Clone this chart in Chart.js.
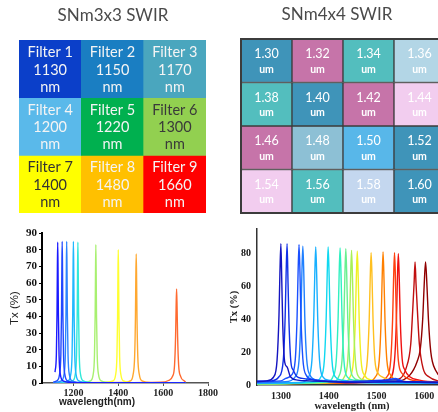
<!DOCTYPE html>
<html>
<head>
<meta charset="utf-8">
<script src="https://cdn.jsdelivr.net/npm/chart.js@4.4.0/dist/chart.umd.min.js"></script>
<style>
html, body { margin: 0; padding: 0; background: #fff; overflow: hidden; }
body { width: 438px; height: 412px; position: relative; }
canvas { position: absolute; }
.t { position: absolute; text-align: center; white-space: nowrap; }
</style>
</head>
<body>
<canvas id="grid-a" width="219" height="215" style="left:0;top:0"></canvas>
<canvas id="grid-b" width="240" height="215" style="left:219px;top:0"></canvas>
<canvas id="spec-a" width="219" height="197" style="left:0;top:215px"></canvas>
<canvas id="spec-b" width="235" height="197" style="left:219px;top:215px"></canvas>

<div class="t" style="left:0;width:226px;top:4px;font:17px Lato;color:#4a4a4a">SNm3x3 SWIR</div>
<div class="t" style="left:237px;width:200px;top:3px;font:17px Lato;color:#4a4a4a">SNm4x4 SWIR</div>
<div class="t" style="left:37px;width:120px;top:396px;font:bold 10px 'Liberation Sans';color:#222">wavelength(nm)</div>
<div class="t" style="left:292px;width:120px;top:400px;font:bold 10.5px 'Liberation Serif';color:#222">wavelength (nm)</div>

<script>
// 3x3 filter grid
const filterNames = ['Filter 1', 'Filter 2', 'Filter 3', 'Filter 4', 'Filter 5', 'Filter 6', 'Filter 7', 'Filter 8', 'Filter 9'];
const filterNm = [1130, 1150, 1170, 1200, 1220, 1300, 1400, 1480, 1660];
const filterColors = ['#0b3fc9', '#1a7ec2', '#4aa6be', '#5ab9ea', '#00b04f', '#92d050', '#ffff00', '#ffc000', '#ff0000'];
const filterTextColors = ['#f4f4f4', '#f4f4f4', '#f4f4f4', '#f4f4f4', '#f4f4f4', '#3a3a3a', '#333333', '#f4f4f4', '#f4f4f4'];

// 4x4 pixel grid (um)
const pixelUm = [1.30, 1.32, 1.34, 1.36, 1.38, 1.40, 1.42, 1.44, 1.46, 1.48, 1.50, 1.52, 1.54, 1.56, 1.58, 1.60];
const pixelColors = ['#3f94b9', '#c674a9', '#53bebe', '#b3d6e6',
                     '#53bebe', '#3f94b9', '#c674a9', '#f2cdef',
                     '#c674a9', '#8dc0d5', '#58b7e9', '#3f94b9',
                     '#f2cdef', '#53bebe', '#c4d7ef', '#3f94b9'];

// left spectra: [wavelength nm, Tx %]
const sA1130 = [[1118,6.5],[1124,17],[1127,42],[1128.5,68],[1130,84.5],[1131.5,68],[1133,42],[1136,17],[1142,5],[1154,1.3],[1200,0.2],[1700,0]];
const sA1150 = [[1110,0.5],[1126,1.3],[1138,5],[1144,17],[1147,42],[1148.5,68],[1150,85],[1151.5,68],[1153,42],[1156,17],[1162,5],[1174,1.3],[1220,0.2],[1700,0]];
const sA1170 = [[1110,0.3],[1146,1.3],[1158,5],[1164,17],[1167,42],[1168.5,68],[1170,85],[1171.5,68],[1173,42],[1176,17],[1182,5],[1194,1.3],[1240,0.2],[1700,0]];
const sA1200 = [[1110,0.2],[1176,1.3],[1188,5],[1194,17],[1197,42],[1198.5,68],[1200,85],[1201.5,68],[1203,42],[1206,17],[1212,5],[1224,1.3],[1270,0.2],[1700,0]];
const sA1220 = [[1110,0.1],[1196,1.3],[1208,5],[1214,17],[1217,42],[1218.5,68],[1220,84.5],[1221.5,68],[1223,42],[1226,17],[1232,5],[1244,1.3],[1290,0.2],[1700,0]];
const sA1300 = [[1110,0],[1250,0.3],[1276,1.3],[1288,5],[1294,17],[1297,41],[1298.5,66],[1300,83],[1301.5,66],[1303,41],[1306,17],[1312,5],[1324,1.3],[1370,0.2],[1700,0]];
const sA1400 = [[1110,0],[1340,0.3],[1376,1.2],[1388,4.8],[1394,16],[1397,40],[1398.5,64],[1400,80],[1401.5,64],[1403,40],[1406,16],[1412,4.8],[1424,1.2],[1470,0.2],[1700,0]];
const sA1480 = [[1110,0],[1420,0.3],[1454,1.3],[1466,5],[1473,16],[1476.5,39],[1478.2,62],[1480,77.5],[1481.8,62],[1483.5,39],[1487,16],[1494,5],[1506,1.3],[1550,0.2],[1700,0]];
const sA1660 = [[1110,0],[1590,0.5],[1624,1.5],[1642,4],[1651,11],[1655.5,28],[1657.8,45],[1660,56.5],[1662.2,45],[1664.5,28],[1669,11],[1678,4],[1696,1],[1700,0.5]];
const specAColors = ['#1a1aff', '#2048ff', '#2a84ff', '#20b8ff', '#30e8d8', '#a8f070', '#ffff30', '#ffa830', '#ff6a30'];
const xTicksA = [1200, 1400, 1600, 1800];
const yTicksA = [0, 10, 20, 30, 40, 50, 60, 70, 80, 90];

// right spectra
const sB1300 = [[1250,2],[1270,2.5],[1285,5],[1292,15],[1296,42],[1298,68],[1300,86],[1302,62],[1304,36],[1308,14],[1313,11],[1320,5],[1335,3],[1360,2.5],[1400,2],[1450,1.5],[1540,2],[1650,1.5]];
const sB1313 = [[1250,2.5],[1280,2.5],[1296,5],[1305,15],[1309,42],[1311,68],[1313,86],[1315,62],[1317,38],[1321,14],[1326,9],[1334,5],[1345,4],[1370,3],[1420,2],[1540,3],[1560,2],[1650,1.5]];
const sB1338 = [[1250,2],[1300,2.5],[1310,4],[1322,6],[1330,15],[1334,42],[1336,68],[1338,85.5],[1340,68],[1342,42],[1346,16],[1353,6],[1365,3.5],[1400,2.5],[1500,2],[1540,4],[1560,2],[1650,1.5]];
const sB1346 = [[1250,1.5],[1310,2],[1330,5],[1338,15],[1342,42],[1344,68],[1346,84.5],[1348,68],[1350,42],[1354,16],[1361,6],[1375,3],[1420,2],[1650,1.5]];
const sB1373 = [[1250,1],[1340,1.5],[1358,5],[1365,15],[1369,42],[1371,67],[1373,84],[1375,67],[1377,42],[1381,15],[1388,5],[1400,3],[1440,2],[1650,1]];
const sB1399 = [[1250,1],[1370,2],[1384,5],[1391,15],[1395,42],[1397,67],[1399,84],[1401,67],[1403,42],[1407,15],[1414,5],[1428,3],[1470,1.5],[1650,1]];
const sB1424 = [[1250,0.8],[1398,2],[1409,5],[1416,15],[1420,42],[1422,67],[1424,83.5],[1426,67],[1428,42],[1432,15],[1439,5],[1452,3],[1500,1.5],[1650,1]];
const sB1436 = [[1250,0.8],[1410,2],[1421,5],[1428,15],[1432,41],[1434,66],[1436,83],[1438,66],[1440,41],[1444,15],[1451,5],[1464,3],[1510,1.5],[1650,1]];
const sB1448 = [[1250,0.8],[1420,2],[1433,5],[1440,15],[1444,41],[1446,65],[1448,82],[1450,65],[1452,41],[1456,15],[1463,5],[1476,3],[1520,1.5],[1650,1]];
const sB1460 = [[1250,0.8],[1432,2],[1445,5],[1452,15],[1456,40],[1458,65],[1460,81.5],[1462,65],[1464,40],[1468,15],[1475,6],[1490,3],[1530,1.5],[1650,1]];
const sB1489 = [[1250,0.8],[1460,2],[1474,5],[1481,15],[1485,40],[1487,64],[1489,80.5],[1491,64],[1493,40],[1497,15],[1504,7],[1512,5],[1530,3],[1650,1]];
const sB1514 = [[1250,0.8],[1480,2],[1498,5],[1506,15],[1510,40],[1512,64],[1514,81],[1516,64],[1518,40],[1522,15],[1530,6],[1545,3],[1600,1.5],[1650,1]];
const sB1538 = [[1250,1],[1500,2],[1522,5],[1530,15],[1534,40],[1536,64],[1538,80.5],[1540,64],[1542,40],[1546,15],[1554,7],[1565,4],[1600,2],[1650,1.5]];
const sB1546 = [[1250,1],[1510,2],[1528,4],[1538,15],[1542,40],[1544,64],[1546,80],[1548,64],[1550,40],[1554,16],[1560,9],[1570,5],[1590,3],[1650,1.5]];
const sB1581 = [[1250,1],[1520,2],[1550,4],[1562,10],[1572,25],[1576,45],[1579,62],[1581,75],[1583,62],[1586,45],[1590,25],[1598,10],[1610,5],[1630,2.5],[1650,2]];
const sB1603 = [[1250,1],[1540,2],[1570,6],[1585,14],[1592,22],[1597,40],[1600,60],[1603,75],[1606,60],[1609,40],[1614,20],[1624,9],[1640,4],[1650,3]];
const specBColors = ['#1414c0', '#1030e8', '#1a50ff', '#2080ff', '#18b0ff', '#10d8f0', '#30f0c0', '#68f090', '#a8f058', '#f0f020',
                     '#ffc020', '#ff8000', '#ff4010', '#f01010', '#c01010', '#900000'];
const xTicksB = [1300, 1400, 1500, 1600];
const yTicksB = [0, 20, 40, 60, 80];

function gridChart(id, cols, colors, pad, bordered, drawCell) {
    const rows = colors.length / cols;
    const datasets = [];
    for (let r = 0; r < rows; r++) {
        datasets.push({
            data: new Array(cols).fill(1),
            backgroundColor: colors.slice(r * cols, r * cols + cols),
            borderColor: '#3c3c3c',
            borderWidth: bordered ? 1 : 0,
            borderSkipped: false,
            categoryPercentage: 1,
            barPercentage: 1,
        });
    }
    return new Chart(document.getElementById(id), {
        type: 'bar',
        data: { labels: new Array(cols).fill(''), datasets: datasets },
        options: {
            responsive: false,
            animation: false,
            events: [],
            layout: { padding: pad },
            plugins: { legend: { display: false }, tooltip: { enabled: false } },
            scales: {
                x: { stacked: true, display: false },
                y: { stacked: true, display: false, min: 0, max: rows, reverse: true },
            },
        },
        plugins: [{
            id: 'cellText',
            afterDatasetsDraw(chart) {
                const ctx = chart.ctx;
                ctx.save();
                ctx.textAlign = 'center';
                ctx.textBaseline = 'middle';
                chart.data.datasets.forEach((ds, r) => {
                    chart.getDatasetMeta(r).data.forEach((bar, c) => {
                        drawCell(ctx, r * cols + c, bar.x, (bar.y + bar.base) / 2);
                    });
                });
                if (bordered) {
                    const a = chart.chartArea;
                    ctx.strokeStyle = '#3c3c3c';
                    ctx.lineWidth = 2;
                    ctx.strokeRect(a.left, a.top, a.right - a.left, a.bottom - a.top);
                }
                ctx.restore();
            }
        }]
    });
}

gridChart('grid-a', 3, filterColors, { left: 19, right: 13, top: 40, bottom: 2 }, false, (ctx, i, x, y) => {
    ctx.fillStyle = filterTextColors[i];
    ctx.font = '14.5px Lato';
    ctx.fillText(filterNames[i], x, y - 16.5);
    ctx.fillText(String(filterNm[i]), x, y + 1);
    ctx.fillText('nm', x, y + 18);
});

gridChart('grid-b', 4, pixelColors, { left: 22, right: 14, top: 39, bottom: 2 }, true, (ctx, i, x, y) => {
    ctx.fillStyle = '#ffffff';
    ctx.font = '12.5px Lato';
    ctx.fillText(pixelUm[i].toFixed(2), x, y - 6.5);
    ctx.font = 'bold 10.5px Lato';
    ctx.fillText('um', x, y + 8.5);
});

function specChart(id, series, colors, cfg) {
    return new Chart(document.getElementById(id), {
        type: 'line',
        data: {
            datasets: series.map((s, i) => ({
                data: s.map(p => ({ x: p[0], y: p[1] })),
                borderColor: colors[i],
                borderWidth: 1.4,
                pointRadius: 0,
                fill: false,
                cubicInterpolationMode: 'monotone',
            }))
        },
        options: {
            responsive: false,
            animation: false,
            events: [],
            layout: { padding: cfg.pad },
            plugins: { legend: { display: false }, tooltip: { enabled: false } },
            scales: {
                x: {
                    type: 'linear', min: cfg.xMin, max: cfg.xMax,
                    afterBuildTicks: s => { s.ticks = cfg.xTicks.map(v => ({ value: v })); },
                    afterFit: s => { s.height = cfg.xH; },
                    grid: { display: true, drawOnChartArea: false, drawTicks: cfg.ticks, tickLength: 3, color: cfg.xAxis },
                    border: { color: cfg.xAxis, width: 1.5 },
                    ticks: { color: '#222', font: cfg.xFont, padding: cfg.xPad, maxRotation: 0, callback: v => String(v) },
                },
                y: {
                    min: 0, max: cfg.yMax,
                    afterBuildTicks: s => { s.ticks = cfg.yTicks.map(v => ({ value: v })); },
                    afterFit: s => { s.width = cfg.yW; },
                    grid: { display: true, drawOnChartArea: false, drawTicks: cfg.ticks, tickLength: 3, color: cfg.yAxis },
                    border: { color: cfg.yAxis, width: cfg.yAxisW },
                    ticks: { color: '#111', font: cfg.yFont, padding: cfg.yPad, callback: v => String(v) },
                    title: { display: true, text: 'Tx (%)', color: '#222', font: cfg.titleFont, padding: cfg.titlePad },
                },
            },
        },
    });
}

specChart('spec-a', [sA1130, sA1150, sA1170, sA1200, sA1220, sA1300, sA1400, sA1480, sA1660], specAColors, {
    pad: { left: 0, right: 9, top: 18, bottom: 0 },
    xMin: 1060, xMax: 1800, xTicks: xTicksA, yMax: 90, yTicks: yTicksA,
    xH: 29, yW: 42, ticks: true,
    xAxis: '#555', yAxis: '#000', yAxisW: 2,
    xFont: { family: 'Liberation Serif', size: 10, weight: 'bold' }, xPad: 1,
    yFont: { family: 'Liberation Serif', size: 11, weight: 'bold' }, yPad: 2,
    titleFont: { family: 'Liberation Sans', size: 11.5 }, titlePad: { top: 8, bottom: 0 },
});

specChart('spec-b', [sB1300, sB1313, sB1338, sB1346, sB1373, sB1399, sB1424, sB1436, sB1448, sB1460,
                     sB1489, sB1514, sB1538, sB1546, sB1581, sB1603], specBColors, {
    pad: { left: 0, right: 6, top: 14, bottom: 0 },
    xMin: 1250, xMax: 1650, xTicks: xTicksB, yMax: 95, yTicks: yTicksB,
    xH: 27, yW: 38, ticks: false,
    xAxis: '#333', yAxis: '#333', yAxisW: 1.5,
    xFont: { family: 'Liberation Serif', size: 10, weight: 'bold' }, xPad: 5,
    yFont: { family: 'Liberation Serif', size: 10, weight: 'bold' }, yPad: 6,
    titleFont: { family: 'Liberation Serif', size: 10.5, weight: 'bold' }, titlePad: { top: 9, bottom: 0 },
});
</script>
</body>
</html>
